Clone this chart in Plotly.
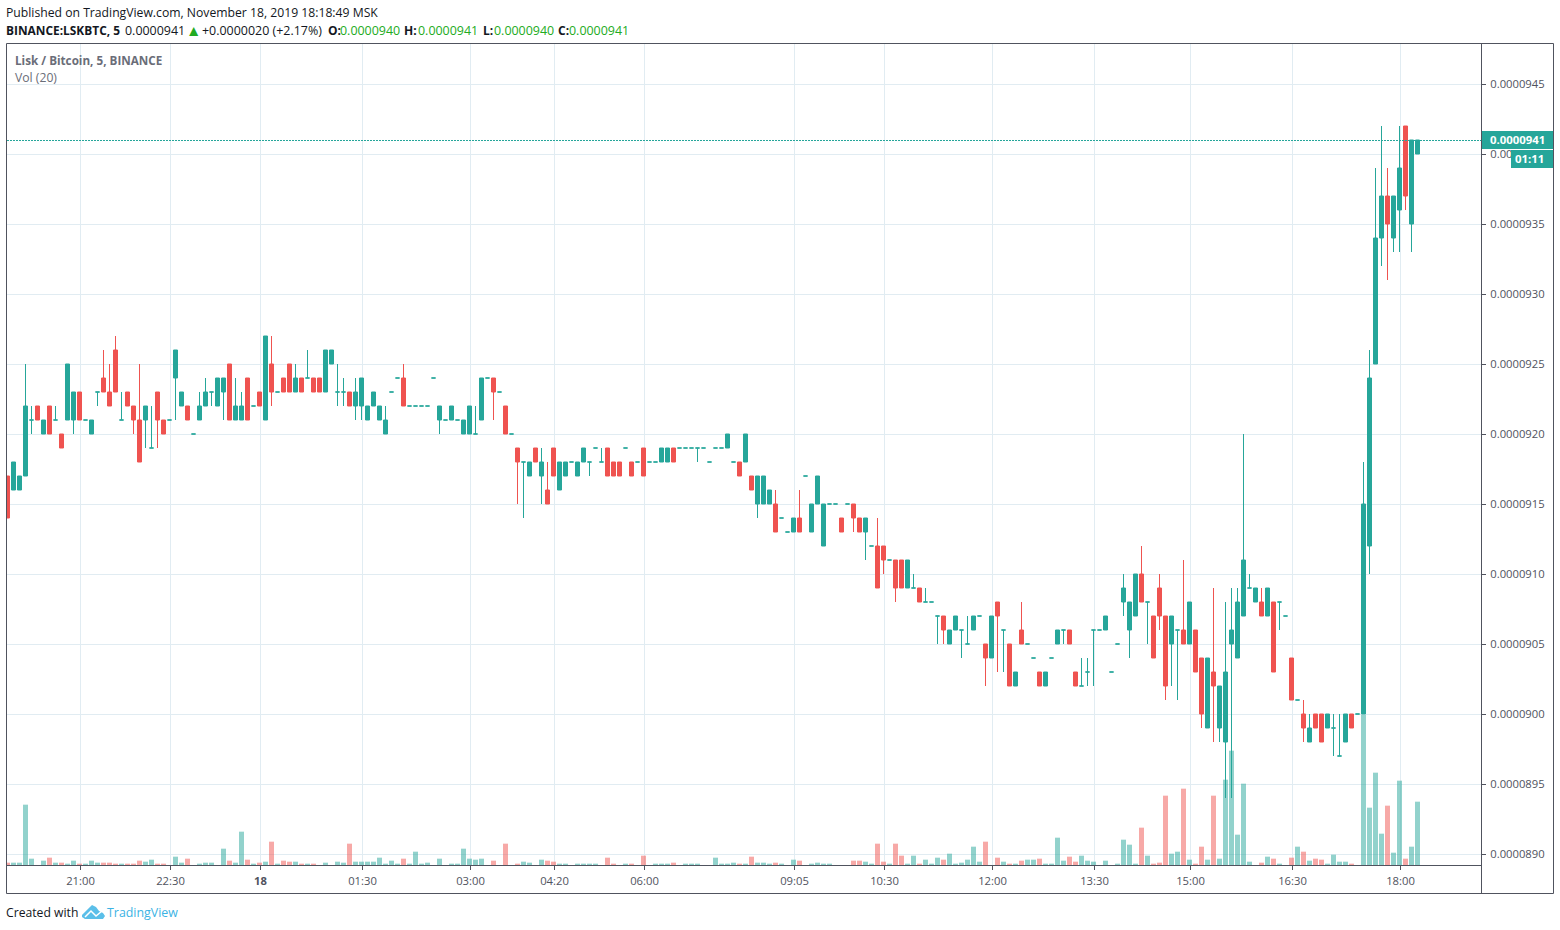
import plotly.graph_objects as go

# Prices in units of 0.0000001 BTC, one entry per 5-minute candle
opens = [
917,916,916,917,921,922,920,922,921,920, 921,921,923,921,920,923,924,923,926,921,
923,922,921,921,919,923,921,921,924,922, 922,920,921,922,923,922,923,925,921,921,
924,922,923,921,925,923,924,925,923,924, 924,924,924,923,925,923,923,923,922,922,
921,922,921,920,923,924,924,922,922,922, 922,924,921,921,921,921,920,920,920,921,
924,924,923,922,920,919,918,917,919,917, 916,919,916,917,918,917,918,918,919,918,
919,918,918,919,918,918,919,918,918,918, 918,919,919,919,919,919,919,918,919,919,
919,918,918,918,917,915,915,915,915,914, 913,913,914,917,913,915,912,915,915,914,
915,915,914,913,912,912,912,911,911,911, 909,909,909,908,908,907,907,905,906,906,
905,906,907,905,904,908,906,905,902,906, 905,904,903,902,904,905,906,906,903,902,
903,906,906,906,903,905,908,906,907,910, 908,907,909,907,905,906,906,905,906,904,
899,903,899,898,905,904,907,909,908,908, 907,908,908,907,904,901,900,898,900,900,
899,899,897,898,900,900,900,912,925,934, 937,934,936,942,935,940]
highs = [
917,918,917,925,922,922,921,922,922,920, 925,923,923,921,921,923,926,925,927,923,
923,922,925,922,922,923,921,921,926,923, 922,920,923,924,923,924,924,925,924,923,
924,922,923,927,927,923,924,925,925,924, 926,924,924,926,926,925,924,923,924,924,
922,923,922,922,923,924,925,922,922,922, 922,924,922,921,922,921,921,922,922,924,
924,924,923,922,920,919,918,918,919,919, 918,919,918,918,918,918,919,918,919,919,
919,918,918,919,918,918,919,918,918,919, 919,919,919,919,919,919,919,918,919,919,
920,918,918,920,917,917,917,916,916,914, 913,914,916,917,915,917,915,915,915,914,
915,915,914,914,912,914,912,911,911,911, 911,910,909,909,908,907,907,906,907,906,
907,907,907,905,907,908,906,905,903,908, 905,904,903,903,904,906,906,906,903,904,
904,906,906,907,903,905,910,908,910,912, 908,907,910,907,907,906,911,908,906,904,
904,909,902,908,909,909,920,910,909,909, 909,908,908,907,904,901,901,900,900,900,
900,900,900,900,900,900,918,926,939,942, 939,937,942,942,941,941]
lows = [
914,916,916,917,920,921,920,920,921,919, 921,920,921,921,920,922,923,922,923,921,
922,920,918,919,919,919,920,921,921,922, 921,920,921,922,922,922,921,921,921,921,
921,922,922,921,922,923,923,923,923,923, 924,923,923,923,925,922,922,922,921,921,
921,922,921,920,923,924,922,922,922,922, 922,924,920,921,921,921,920,920,920,921,
924,921,923,920,920,915,914,917,918,915, 915,917,916,917,918,917,918,917,919,918,
917,917,917,919,917,918,917,918,918,918, 918,918,919,919,919,918,919,918,919,919,
919,918,917,918,916,914,915,915,913,914, 913,913,913,917,913,915,912,915,915,913,
915,913,913,911,912,909,910,911,908,909, 909,909,908,908,908,905,905,905,906,904,
905,906,907,902,904,903,903,902,902,905, 905,904,902,902,904,905,905,905,902,902,
902,902,906,906,903,905,907,904,907,908, 905,904,906,901,902,901,905,905,903,899,
899,898,898,894,894,904,907,909,908,907, 907,903,906,907,901,901,898,898,899,898,
899,897,897,898,899,900,900,910,925,932, 931,933,933,936,933,940]
closes = [
914,918,917,922,921,921,921,920,921,919, 925,923,921,921,921,923,923,922,923,921,
922,921,918,922,919,921,920,921,926,923, 921,920,922,923,923,924,924,921,922,922,
921,922,922,927,923,923,923,923,924,923, 924,923,923,926,926,923,923,922,923,924,
922,923,922,921,923,924,922,922,922,922, 922,924,922,921,922,921,921,922,920,924,
924,923,923,920,920,918,918,918,918,918, 915,917,918,918,918,918,919,918,919,918,
917,917,917,919,917,918,917,918,918,919, 919,918,919,919,919,919,919,918,919,919,
920,918,917,920,916,917,917,916,913,914, 913,914,913,917,915,917,915,915,915,913,
915,914,913,914,912,909,911,911,909,909, 911,909,908,908,908,907,906,906,907,906,
905,907,907,904,907,907,906,902,903,905, 905,904,902,903,904,906,906,905,902,902,
903,906,906,907,903,905,909,908,910,908, 908,904,907,902,907,906,905,908,903,900,
904,902,902,903,906,908,911,909,909,907, 909,903,908,907,901,901,899,899,899,898,
900,899,897,900,899,900,915,924,934,937, 935,937,939,937,941,941]
# Volume, in arbitrary units
volumes = [
7,7,7,181,19,0,13,22,7,7, 4,13,4,4,13,7,7,7,4,4,
4,4,13,10,16,4,4,0,25,7, 19,0,4,7,7,0,49,13,7,100,
16,4,7,10,70,4,13,10,10,4, 4,4,0,7,0,10,7,64,10,10,
10,10,22,4,13,4,19,4,40,4, 7,0,19,0,4,4,49,19,16,19,
0,13,0,64,0,4,10,7,0,16, 13,10,4,4,0,4,4,4,4,0,
22,4,0,4,4,0,28,0,4,4, 4,7,0,4,4,4,0,0,22,4,
4,7,4,4,25,7,7,4,7,4, 0,16,13,0,4,7,4,4,0,0,
0,13,13,10,4,64,10,4,64,28, 4,28,4,16,4,22,16,34,4,7,
16,55,10,70,0,22,10,4,4,13, 16,16,19,4,4,82,13,25,10,28,
13,10,0,13,0,4,76,61,4,112, 28,4,7,208,34,40,229,16,4,55,
16,208,19,256,343,91,244,10,0,7, 25,19,4,0,22,55,40,13,19,16,
4,31,10,10,4,0,451,172,277,94, 178,37,253,19,55,190]
x_tick_positions = [12,27,42,59,77,91,106,131,146,164,181,197,214,232]
x_tick_labels = ["21:00","22:30","<b>18</b>","01:30","03:00","04:20","06:00",
                 "09:05","10:30","12:00","13:30","15:00","16:30","18:00"]
y_ticks = [890,895,900,905,910,915,920,925,930,935,940,945]

SCALE = 1e-7
UP, DOWN = "#26a69a", "#ef5350"
AXIS = "#50535e"
GRID = "#e1ecf2"
FONT = "Open Sans"
TS = 11.25
HS = 12.2
VS = 12.45
GREEN = "#22ab22"

# pane geometry in page pixels
L, R, T, B = 7, 1481, 44, 865
def px(x): return (x - L) / (R - L)
def py(y): return (B - y) / (B - T)

n = len(opens)
idx = list(range(n))
up = [i for i in idx if closes[i] >= opens[i]]
down = [i for i in idx if closes[i] < opens[i]]

def candle(ids, color):
    return go.Candlestick(
        x=ids,
        open=[opens[i]*SCALE for i in ids], high=[highs[i]*SCALE for i in ids],
        low=[lows[i]*SCALE for i in ids], close=[closes[i]*SCALE for i in ids],
        increasing=dict(line=dict(color=color, width=1), fillcolor=color),
        decreasing=dict(line=dict(color=color, width=1), fillcolor=color),
        whiskerwidth=0, yaxis="y2", showlegend=False, hoverinfo="skip")

fig = go.Figure()
fig.add_trace(go.Bar(
    x=idx, y=volumes, width=0.83, yaxis="y",
    marker=dict(color=[DOWN if closes[i] < opens[i] else UP for i in idx],
                opacity=0.5, line=dict(width=0)),
    showlegend=False, hoverinfo="skip"))
fig.add_trace(candle(up, UP))
fig.add_trace(candle(down, DOWN))

def text(x, y, s, color="#131722", size=HS, anchor="left"):
    return dict(xref="paper", yref="paper", x=px(x), y=py(y), text=s, showarrow=False,
                xanchor=anchor, yanchor="middle", align="left", borderpad=0,
                font=dict(family=FONT, size=size, color=color))

annotations = [
    text(5, 13, "Published on TradingView.com, November 18, 2019 18:18:49 MSK"),
    text(5, 30, "<b>BINANCE:LSKBTC, 5</b>", size=11.9),
    text(124, 30, "0.0000941", size=VS),
    text(193.5, 29.5, "▲", color=GREEN, size=15.5, anchor="center"),
    text(201, 30, "+0.0000020 (+2.17%)", size=VS),
    text(327, 30, "<b>O:</b>", size=12),
    text(339, 30, "0.0000940", color=GREEN, size=VS),
    text(403, 30, "<b>H:</b>", size=12),
    text(417, 30, "0.0000941", color=GREEN, size=VS),
    text(482, 30, "<b>L:</b>", size=12),
    text(493, 30, "0.0000940", color=GREEN, size=VS),
    text(557, 30, "<b>C:</b>", size=12),
    text(568, 30, "0.0000941", color=GREEN, size=VS),
    text(14, 60, "<b>Lisk / Bitcoin, 5, BINANCE</b>", color="#6a6d78", size=11.7),
    text(14, 77, "Vol (20)", color="#6a6d78", size=12.2),
    text(1517, 139, "<b>0.0000941</b>", color="#ffffff", size=11.4, anchor="center"),
    text(1529, 158, "<b>01:11</b>", color="#ffffff", size=11.4, anchor="center"),
    text(5, 912, "Created with"),
    text(105.5, 912, "TradingView", color="#3bb3e4", size=12.4),
]

def rect(x0, y0, x1, y1, color):
    return dict(type="rect", xref="paper", yref="paper", x0=px(x0), x1=px(x1), y0=py(y0), y1=py(y1),
                fillcolor=color, line=dict(width=0), layer="above")
def seg(x0, y0, x1, y1):
    return dict(type="line", xref="paper", yref="paper", x0=px(x0), x1=px(x1), y0=py(y0), y1=py(y1),
                line=dict(color=AXIS, width=1), layer="above")
def path(points, **kw):
    d = "M" + " L".join(f"{px(a):.5f},{py(b):.5f}" for a, b in points)
    return dict(type="path", xref="paper", yref="paper", path=d, layer="above", **kw)

shapes = [
    dict(type="line", xref="paper", yref="paper", x0=0, x1=1, y0=py(140.5), y1=py(140.5),
         line=dict(color=UP, width=1, dash="2px,1px"), layer="above"),
    rect(1481, 131, 1553, 149, UP),
    rect(1511, 150, 1553, 168, UP),
    seg(6.5, 43.5, 1553.5, 43.5), seg(6.5, 893.5, 1553.5, 893.5),
    seg(6.5, 43.5, 6.5, 893.5), seg(1553.5, 43.5, 1553.5, 893.5),
    seg(1481.5, 43.5, 1481.5, 893.5), seg(6.5, 865.5, 1481.5, 865.5),
    path([(82,915),(88,909),(92,905),(96,907),(99,911),(103,913),(105,916),(103,919),(85,919),(82,917)],
         fillcolor="#5bbfe9", line=dict(width=0)),
    path([(85,917),(91,911),(96,916),(102,911)], line=dict(color="#ffffff", width=1.5)),
]

fig.update_layout(
    width=1560, height=930, autosize=False,
    margin=dict(l=L, r=1560-R, t=T, b=930-B, pad=0),
    paper_bgcolor="#ffffff", plot_bgcolor="#ffffff",
    showlegend=False, barmode="overlay", boxgap=0.333, boxgroupgap=0,
    hovermode=False, dragmode=False,
    annotations=annotations, shapes=shapes,
    xaxis=dict(range=[(L-7.5)/6, (R-7.5)/6], rangeslider=dict(visible=False),
               tickmode="array", tickvals=[t + 1/6 for t in x_tick_positions], ticktext=x_tick_labels,
               ticks="outside", ticklen=4, tickcolor=AXIS, tickwidth=1, ticklabelstandoff=1,
               showgrid=True, gridcolor=GRID, gridwidth=1, zeroline=False, showline=False,
               tickangle=0, tickfont=dict(family=FONT, size=TS, color=AXIS), anchor="y"),
    yaxis=dict(range=[0, (B-T)*3], visible=False, showgrid=False, zeroline=False, fixedrange=True),
    yaxis2=dict(range=[(890-(B-854)/14)*SCALE, (945+(84-T)/14)*SCALE],
                overlaying="y", side="right", anchor="x",
                tickmode="array", tickvals=[v*SCALE for v in y_ticks],
                ticktext=[f"{v*SCALE:.7f}" for v in y_ticks],
                ticks="outside", ticklen=4, tickcolor=AXIS, tickwidth=1, ticklabelstandoff=2,
                showgrid=True, gridcolor=GRID, gridwidth=1, zeroline=False, showline=False,
                tickfont=dict(family=FONT, size=TS, color=AXIS)),
)
fig.write_html("out.html", config=dict(displayModeBar=False, staticPlot=True),
               post_script="document.body.style.margin='0';document.body.style.overflow='hidden';")
